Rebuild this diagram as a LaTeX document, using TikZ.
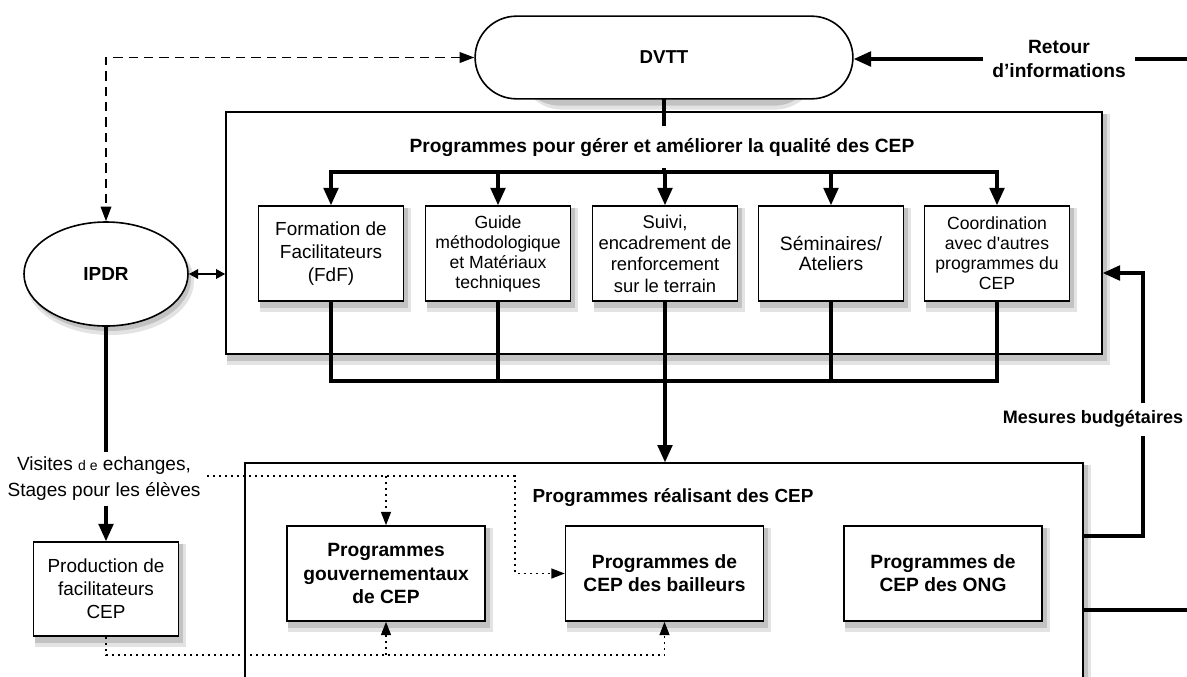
\documentclass[tikz,border=0pt]{standalone}
\usepackage{fontspec}
\setmainfont{Liberation Sans}
\usetikzlibrary{arrows.meta,shapes.misc,shapes.geometric}

\pgfdeclarelayer{frameshade}
\pgfdeclarelayer{framelayer}
\pgfdeclarelayer{boxshade}
\pgfsetlayers{frameshade,framelayer,boxshade,main}

\tikzset{every picture/.style={line width=0.75pt}}
\tikzset{
  softshade/.style={fill=black!11},
  darkshade/.style={fill=black!24},
  framebox/.style={draw,line width=1pt,fill=white},
  itembox/.style={draw,line width=1.2pt,fill=white,align=center,minimum width=108.75pt,minimum height=71.25pt,inner sep=2pt},
  cepbox/.style={itembox,minimum width=148.5pt,font=\fontsize{14.4}{17.3}\selectfont\bfseries},
  headline/.style={font=\fontsize{13.5}{18}\selectfont\bfseries,align=center},
  link/.style={line width=2.4pt,line cap=rect},
  bigtip/.style={-{Triangle[length=13pt,width=11pt]}},
  smalltip/.style={-{Triangle[length=10pt,width=7.5pt]}},
  dashlink/.style={line width=1.2pt,dash pattern=on 7pt off 4.5pt},
  dotlink/.style={line width=1pt,dash pattern=on 1.5pt off 3pt}
}

\begin{document}
\begin{tikzpicture}[x=0.75pt,y=0.75pt,yscale=-1,xscale=1]
\useasboundingbox (0,0) rectangle (1187,676);
\clip (0,0) rectangle (1187,676);

\begin{pgfonlayer}{framelayer}
% Text Node
\node[framebox,minimum width=657pt,minimum height=181.5pt] (qual) at (664,233) {};
% Text Node
\node[framebox,minimum width=628.5pt,minimum height=190.5pt] (real) at (664,590) {};
\end{pgfonlayer}

% Text Node
\node[draw,line width=1.2pt,fill=white,rounded rectangle,minimum width=290pt,minimum height=62pt,font=\fontsize{14}{16}\selectfont\bfseries] (dvtt) at (664,57.5) {DVTT};
% Text Node
\node[draw,line width=1.2pt,fill=white,ellipse,minimum width=123pt,minimum height=78pt,font=\fontsize{14.2}{16}\selectfont\bfseries] (ipdr) at (106,274) {IPDR};

% Text Node
\node[itembox,font=\fontsize{14.2}{17}\selectfont] (fdf) at (331,253.5) {Formation de\\Facilitateurs\\(FdF)};
% Text Node
\node[itembox,font=\fontsize{13.2}{15}\selectfont] (guide) at (498,253.5) {Guide\\méthodologique\\et Matériaux\\techniques};
% Text Node
\node[itembox,font=\fontsize{13.8}{16}\selectfont] (suivi) at (665,253.5) {Suivi,\\encadrement de\\renforcement\\sur le terrain};
% Text Node
\node[itembox,font=\fontsize{14.5}{15}\selectfont] (semi) at (831,253.5) {Séminaires/\\Ateliers};
% Text Node
\node[itembox,font=\fontsize{13.2}{15}\selectfont] (coord) at (997,253.5) {Coordination\\avec d\textquotesingle autres\\programmes du\\CEP};

% Text Node
\node[cepbox] (gov) at (386,573.5) {Programmes\\gouvernementaux\\de CEP};
% Text Node
\node[cepbox] (bail) at (664.5,573.5) {Programmes de\\CEP des bailleurs};
% Text Node
\node[cepbox] (ong) at (943,573.5) {Programmes de\\CEP des ONG};
% Text Node
\node[itembox,minimum height=70.5pt,font=\fontsize{14.2}{17.3}\selectfont] (prod) at (106,589) {Production de\\facilitateurs\\CEP};

% Shadows
\begin{pgfonlayer}{frameshade}
\foreach \nm in {qual,real} {
  \path[softshade] ([shift={(2,3)}]\nm.north west) rectangle ([shift={(7,10)}]\nm.south east);
  \path[darkshade] ([shift={(2,3)}]\nm.north west) rectangle ([shift={(4,6)}]\nm.south east);
}
\end{pgfonlayer}
\begin{pgfonlayer}{boxshade}
\foreach \nm in {fdf,guide,suivi,semi,coord,gov,bail,ong,prod} {
  \path[softshade] ([shift={(2,3)}]\nm.north west) rectangle ([shift={(7,10)}]\nm.south east);
  \path[darkshade] ([shift={(2,3)}]\nm.north west) rectangle ([shift={(4,6)}]\nm.south east);
}
\path[softshade,rounded corners=33pt] ([shift={(2,3)}]dvtt.north west) rectangle ([shift={(7,10)}]dvtt.south east);
\path[darkshade,rounded corners=31pt] ([shift={(2,3)}]dvtt.north west) rectangle ([shift={(4,6)}]dvtt.south east);
\path[softshade] ([shift={(4,7)}]ipdr.center) ellipse [x radius=84, y radius=54];
\path[darkshade] ([shift={(3,5)}]ipdr.center) ellipse [x radius=82, y radius=52];
\end{pgfonlayer}

% Text Node
\node[headline,font=\fontsize{14.2}{18}\selectfont\bfseries] (realtitle) at (673,498) {Programmes réalisant des CEP};
% Text Node
\node[headline,font=\fontsize{14.4}{18}\selectfont\bfseries,inner xsep=8pt] (retour) at (1059,59) {Retour\\d’informations};
% Text Node
\node[headline,inner ysep=7pt] (budget) at (1093,419) {Mesures budgétaires};
% Text Node
\node[align=center,font=\fontsize{14.3}{19.5}\selectfont,inner sep=5pt] (visit) at (104,479) {Visites {\fontsize{10.5}{12}\selectfont d e} echanges,\\Stages pour les élèves};

\coordinate (busTop) at (331,172);
\coordinate (busBot) at (331,381);
\coordinate (retourEnd) at (1187,59);
\coordinate (retourLow) at (1187,610);
\coordinate (budLow) at (1143,536);
\coordinate (budHigh) at (1143,273);
\coordinate (dotTop) at (515,476);
\coordinate (dotLow) at (106,655);

% Connection
\draw[link] (dvtt.south) -- (dvtt.south |- busTop);
% Text Node
\node[headline,font=\fontsize{14.4}{18}\selectfont\bfseries,fill=white,inner ysep=9pt] (qualtitle) at (662,147) {Programmes pour gérer et améliorer la qualité des CEP};
% Connection
\draw[link] (busTop) -- (busTop -| coord.north);
\foreach \nm in {fdf,guide,suivi,semi,coord}
  \draw[link,bigtip] (busTop -| \nm.north) -- (\nm.north);
% Connection
\foreach \nm in {fdf,guide,semi,coord}
  \draw[link] (\nm.south) -- (busBot -| \nm.south);
\draw[link] (busBot) -- (busBot -| coord.south);
\draw[link,bigtip] (suivi.south) -- (suivi.south |- real.north);
% Connection
\draw[link] (retourEnd) -- (retour.east);
\draw[link,bigtip] (retour.west) -- (retour.west -| dvtt.east);
% Connection
\draw[dashlink,{Triangle[length=11pt,width=8pt]}-{Triangle[length=11pt,width=8pt]}] (dvtt.west) -| (ipdr.north);
% Connection
\draw[line width=1.8pt,{Triangle[length=7pt,width=7pt]}-{Triangle[length=7pt,width=7pt]}] (ipdr.east) -- (ipdr.east -| qual.west);
% Connection
\draw[link] (ipdr.south) -- (ipdr.south |- visit.north);
\draw[link,bigtip] (prod.north |- visit.south) -- (prod.north);
% Connection
\draw[link] (budLow -| real.east) -- (budLow) -- (budLow |- budget.south);
\draw[link,bigtip] (budHigh |- budget.north) -- (budHigh) -- (budHigh -| qual.east);
\draw[link] (retourLow -| real.east) -- (retourLow);
% Connection
\draw[dotlink,smalltip] (visit.east |- dotTop) -- (dotTop) |- (bail.west);
\draw[dotlink,smalltip] (gov.north |- dotTop) -- (gov.north);
\draw[dotlink,smalltip] (prod.south) -- (dotLow) -- (dotLow -| bail.south) -- (bail.south);
\draw[dotlink,smalltip] (gov.south |- dotLow) -- (gov.south);

\end{tikzpicture}
\end{document}
